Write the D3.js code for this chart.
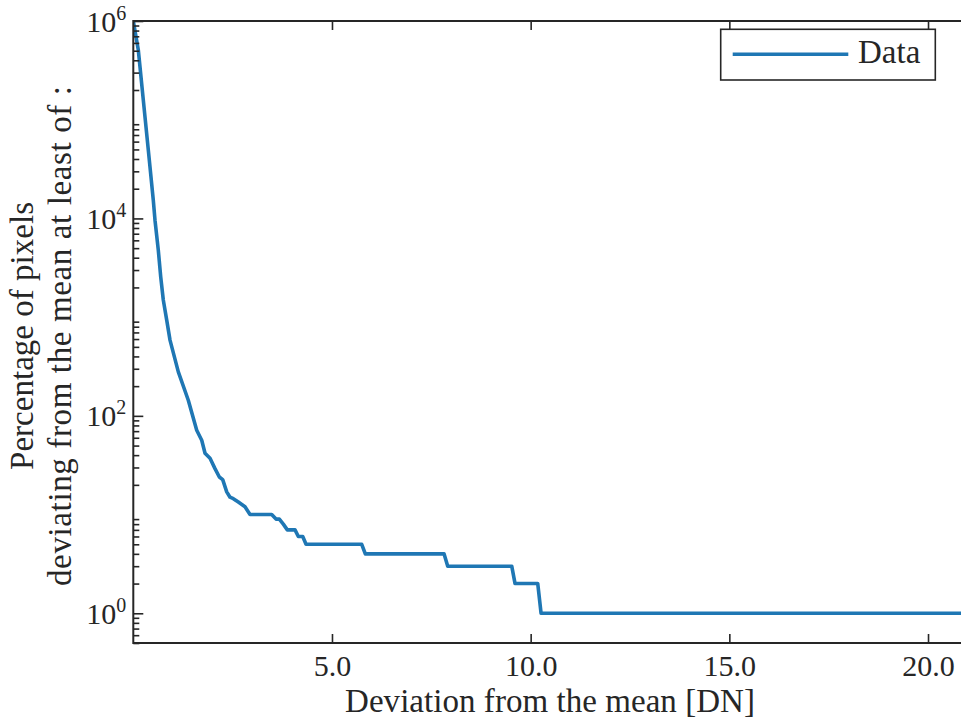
<!DOCTYPE html>
<html>
<head>
<meta charset="utf-8">
<script src="https://cdn.jsdelivr.net/npm/d3@7"></script>
<style>
  html, body { margin: 0; padding: 0; background: #fff; }
  svg { display: block; }
  text { font-family: "Liberation Serif", "Times New Roman", serif; fill: #262626; }
</style>
</head>
<body>
<svg id="chart" width="961" height="725"></svg>
<script>
// Deviation from the mean [DN] and share of pixels deviating at least that much
const deviation = [0, 0.126, 0.252, 0.378, 0.503, 0.546, 0.629, 0.690, 0.755, 0.841,
  0.924, 1.133, 1.384, 1.596, 1.722, 1.805, 1.931, 2.056, 2.165, 2.250,
  2.351, 2.434, 2.517, 2.643, 2.811, 2.937, 3.483, 3.592, 3.675, 3.775,
  3.876, 4.070, 4.153, 4.264, 4.347, 5.749, 5.839, 7.820, 7.913, 9.524,
  9.607, 10.178, 10.262, 20.9];
const percentage = [1e6, 5.08e5, 1.58e5, 4.92e4, 1.53e4, 9.6e3, 4.78e3, 2.56e3, 1.49e3, 933,
  585, 279, 144, 71.6, 56.6, 41.8, 37.2, 29.2, 24, 22.6,
  17, 15, 14.5, 13.4, 12, 10, 10, 9, 9, 8,
  7, 7, 6, 6, 5, 5, 4, 4, 3, 3,
  2, 2, 1, 1];

const xTicks = [5, 10, 15, 20];
const xTickLabels = ["5.0", "10.0", "15.0", "20.0"];
const yExponents = [0, 2, 4, 6];
const seriesName = "Data";
const xLabel = "Deviation from the mean [DN]";
const yLabelLines = ["Percentage of pixels", "deviating from the mean at least of :"];

const ink = "#262626";
const lineColor = "#1f77b4";
const plotLeft = 133.3, plotRight = 961, plotTop = 21, plotBottom = 643;

const svg = d3.select("#chart");
const x = d3.scaleLinear().domain([0, 20.83]).range([plotLeft, plotRight]);
const y = d3.scaleLog().domain([0.5, 1e6]).range([plotBottom, plotTop]);

// clip for the data line
svg.append("defs").append("clipPath").attr("id", "plot-clip")
  .append("rect").attr("x", plotLeft).attr("y", plotTop)
  .attr("width", plotRight - plotLeft).attr("height", plotBottom - plotTop);

const data = deviation.map((d, i) => ({ x: d, y: percentage[i] }));
svg.append("path")
  .datum(data)
  .attr("clip-path", "url(#plot-clip)")
  .attr("fill", "none")
  .attr("stroke", lineColor)
  .attr("stroke-width", 3.6)
  .attr("stroke-linejoin", "round")
  .attr("d", d3.line().x(d => x(d.x)).y(d => y(d.y)));

// bottom axis (ticks pointing inward)
const xAxis = svg.append("g").attr("transform", `translate(0,${plotBottom})`)
  .call(d3.axisBottom(x).tickValues(xTicks).tickSize(-9).tickSizeOuter(0)
    .tickFormat((d, i) => xTickLabels[i]));
xAxis.select(".domain").remove();
xAxis.selectAll("line").attr("stroke", ink).attr("stroke-width", 1.6);
xAxis.selectAll("text").attr("font-size", 30).attr("fill", ink)
  .attr("font-family", "Liberation Serif").attr("y", 0).attr("dy", 33);

// top edge ticks
const xAxisTop = svg.append("g").attr("transform", `translate(0,${plotTop})`)
  .call(d3.axisTop(x).tickValues(xTicks).tickSize(-9).tickSizeOuter(0).tickFormat(""));
xAxisTop.select(".domain").remove();
xAxisTop.selectAll("line").attr("stroke", ink).attr("stroke-width", 1.6);

// left axis: major decades with minor ticks
const minorVals = [];
for (let k = -1; k <= 5; k++) {
  for (let m = 2; m <= 9; m++) {
    const v = m * Math.pow(10, k);
    if (v >= 0.5 && v < 1e6) minorVals.push(v);
  }
}
const yMinor = svg.append("g").attr("transform", `translate(${plotLeft},0)`)
  .call(d3.axisLeft(y).tickValues(minorVals).tickSize(-6).tickSizeOuter(0).tickFormat(""));
yMinor.select(".domain").remove();
yMinor.selectAll("line").attr("stroke", ink).attr("stroke-width", 1.6);

const majorVals = yExponents.map(e => Math.pow(10, e));
const yMajor = svg.append("g").attr("transform", `translate(${plotLeft},0)`)
  .call(d3.axisLeft(y).tickValues(majorVals).tickSize(-10).tickSizeOuter(0).tickFormat(""));
yMajor.select(".domain").remove();
yMajor.selectAll("line").attr("stroke", ink).attr("stroke-width", 1.6);

// decade labels as 10 with superscript exponent
yMajor.selectAll(".tick").each(function (d, i) {
  const t = d3.select(this).append("text")
    .attr("x", -7).attr("y", 10)
    .attr("text-anchor", "end")
    .attr("font-size", 30).attr("fill", ink)
    .attr("font-family", "Liberation Serif");
  t.append("tspan").text("10");
  t.append("tspan").attr("font-size", 20).attr("dy", -12).text(yExponents[i]);
});

// axis lines: left, bottom, top
svg.append("path")
  .attr("d", `M${plotRight},${plotTop}H${plotLeft}V${plotBottom}H${plotRight}`)
  .attr("fill", "none").attr("stroke", ink).attr("stroke-width", 2);

// axis titles
svg.append("text")
  .attr("x", 550).attr("y", 712)
  .attr("text-anchor", "middle").attr("font-size", 33)
  .attr("textLength", 410).attr("lengthAdjust", "spacing")
  .text(xLabel);

const yMid = (plotTop + plotBottom) / 2 + 4;
const yLabelLengths = [268, 500];
yLabelLines.forEach((line, i) => {
  svg.append("text")
    .attr("transform", `translate(${i === 0 ? 33 : 71},${yMid}) rotate(-90)`)
    .attr("text-anchor", "middle").attr("font-size", 33)
    .attr("textLength", yLabelLengths[i]).attr("lengthAdjust", "spacing")
    .text(line);
});

// legend
const lg = svg.append("g");
lg.append("rect").attr("x", 720.7).attr("y", 29.3).attr("width", 214.6).attr("height", 50.7)
  .attr("fill", "#fff").attr("stroke", ink).attr("stroke-width", 1.6);
lg.append("line").attr("x1", 732.7).attr("x2", 848.3).attr("y1", 54.3).attr("y2", 54.3)
  .attr("stroke", lineColor).attr("stroke-width", 3.6);
lg.append("text").attr("x", 858).attr("y", 63).attr("font-size", 33).text(seriesName);
</script>
</body>
</html>
